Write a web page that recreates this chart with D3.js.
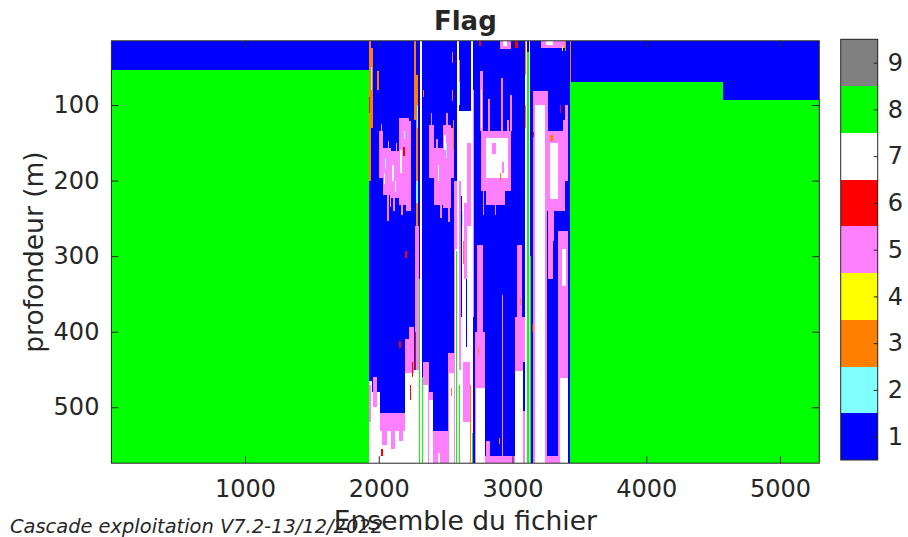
<!DOCTYPE html>
<html><head><meta charset="utf-8">
<script src="https://cdn.jsdelivr.net/npm/d3@7"></script>
<style>
body{margin:0;background:#fff}
svg{display:block}
text{font-family:"DejaVu Sans",sans-serif;fill:#262626}
</style>
</head><body><svg id="c" width="908" height="537"></svg>
<script>
// ---- data ----
const flagCodes = [1,2,3,4,5,6,7,8,9];
const flagColors = ["#0000ff","#80ffff","#ff8000","#ffff00","#ff80ff","#ff0000","#ffffff","#00ff00","#808080"];
const xTickValues = [1000,2000,3000,4000,5000];
const yTickValues = [100,200,300,400,500];
const ensembleRange = [1, 5294];
const depthRange = [15, 574];
// flag blocks: [ensemble start, ensemble end, depth top, depth bottom, flag]
const leftSection = [
 [1, 1925, 15, 54, 1],
 [1, 1925, 54, 574, 8],
 [1, 9, 15, 126, 5],
 [1, 9, 38, 62, 3],
 [1, 9, 84, 108, 3],
 [1, 9, 15, 20, 2]
];
const rightSection = [
 [3432, 4574, 15, 70, 1],
 [3432, 4574, 70, 574, 8],
 [4574, 5294, 15, 94, 1],
 [4574, 5294, 94, 574, 8],
 [3432, 3440, 15, 70, 3]
];
const middleSection = [
 [1925, 3432, 15, 574, 1],
 [1925, 1940, 15, 200, 3],[1945, 1955, 25, 130, 3],[1940, 1945, 50, 80, 2],[1925, 1932, 90, 110, 6],[1985, 2000, 55, 80, 3],
 [2002, 2032, 134, 197, 5],[2032, 2091, 157, 219, 5],[2060, 2075, 219, 253, 5],[2091, 2151, 161, 223, 5],
 [2151, 2226, 117, 232, 5],[2200, 2241, 121, 240, 5],[2100, 2115, 180, 200, 7],[2160, 2175, 160, 190, 7],
 [2040, 2050, 190, 205, 7],[2120, 2130, 200, 215, 7],[2185, 2195, 155, 168, 6],[2045, 2052, 170, 185, 2],[2190, 2197, 135, 145, 2],
 [2015, 2025, 125, 134, 5],[2070, 2080, 148, 157, 5],[2130, 2140, 150, 161, 5],[2110, 2120, 223, 240, 5],
 [2170, 2180, 232, 245, 5],[2085, 2095, 219, 235, 5],
 [2264, 2279, 15, 120, 3],[2279, 2294, 60, 260, 3],[2285, 2294, 100, 130, 2],[2279, 2290, 200, 230, 2],
 [2268, 2301, 260, 450, 5],[2272, 2280, 400, 450, 6],
 [2376, 2413, 126, 197, 5],[2413, 2480, 157, 232, 5],[2480, 2540, 126, 236, 5],[2540, 2563, 130, 197, 5],
 [2390, 2400, 110, 126, 5],[2430, 2440, 145, 157, 5],[2460, 2470, 232, 250, 5],[2505, 2515, 110, 126, 5],[2520, 2530, 236, 255, 5],
 [2490, 2500, 140, 160, 7],[2440, 2450, 180, 200, 7],[2500, 2507, 150, 170, 2],
 [2548, 2555, 30, 45, 3],[2548, 2555, 80, 95, 3],[2555, 2563, 120, 160, 3],[2334, 2341, 80, 90, 3],
 [1925, 1950, 465, 574, 7],[1930, 1945, 470, 520, 5],[1950, 2009, 480, 574, 7],[1955, 1990, 460, 500, 5],
 [2009, 2196, 508, 574, 7],[2009, 2196, 508, 532, 5],[2025, 2060, 532, 550, 5],[2090, 2120, 532, 555, 5],
 [2150, 2180, 532, 545, 5],[2020, 2030, 555, 565, 6],
 [2196, 2264, 410, 470, 5],[2226, 2264, 394, 420, 5],[2196, 2264, 455, 574, 7],[2230, 2240, 470, 490, 6],
 [2245, 2252, 440, 460, 6],[2151, 2170, 412, 421, 6],[2196, 2210, 293, 302, 6],[2264, 2301, 450, 574, 7],
 [2334, 2376, 440, 574, 5],[2334, 2370, 470, 574, 7],[2376, 2406, 480, 510, 5],[2376, 2406, 490, 574, 7],
 [2406, 2518, 531, 574, 5],[2440, 2455, 560, 574, 7],[2518, 2575, 428, 574, 5],[2525, 2575, 455, 574, 7],
 [2540, 2547, 475, 485, 3],[2563, 2583, 200, 574, 5],[2568, 2583, 290, 574, 7],
 [2308, 2326, 15, 574, 7],[2300, 2308, 330, 574, 8],[2326, 2334, 460, 574, 8],[2583, 2600, 15, 574, 7],[2575, 2583, 293, 574, 8],
 [2600, 2690, 108, 574, 7],[2600, 2615, 200, 450, 5],[2640, 2660, 230, 330, 5],[2660, 2690, 150, 260, 5],
 [2615, 2625, 220, 380, 1],[2650, 2660, 330, 420, 1],[2625, 2632, 240, 260, 2],[2630, 2638, 280, 310, 3],
 [2630, 2680, 440, 520, 5],[2603, 2610, 40, 70, 3],[2603, 2610, 70, 100, 2],[2600, 2608, 470, 574, 8],
 [2690, 2705, 15, 574, 7],[2683, 2690, 470, 574, 3],[2697, 2705, 534, 574, 8],
 [2907, 2990, 15, 26, 5],[2930, 2960, 15, 22, 7],[2750, 2765, 15, 22, 6],[3019, 3040, 15, 25, 6],
 [2705, 2715, 80, 380, 5],[2757, 2780, 55, 134, 5],[2765, 2775, 80, 130, 7],[2765, 2989, 134, 214, 5],
 [2802, 2967, 144, 197, 7],[2850, 2880, 150, 165, 5],[2920, 2940, 175, 190, 5],[2802, 2944, 214, 232, 5],
 [2780, 2790, 214, 245, 5],[2960, 2975, 120, 134, 5],[2870, 2880, 232, 245, 5],
 [2915, 2930, 64, 134, 5],[2815, 2835, 92, 134, 5],[2985, 2995, 87, 134, 5],[2827, 2835, 95, 100, 3],[2907, 2915, 190, 200, 3],
 [2735, 2780, 285, 400, 5],[2720, 2794, 400, 574, 5],[2725, 2794, 474, 574, 7],[2742, 2750, 420, 430, 3],
 [2794, 3019, 565, 574, 5],[2800, 2830, 545, 565, 5],[2900, 2907, 540, 548, 3],[2925, 2932, 351, 574, 5],
 [3030, 3070, 285, 380, 5],[3019, 3094, 380, 574, 5],[3019, 3080, 452, 574, 7],[3075, 3090, 440, 505, 1],[3056, 3064, 355, 365, 3],
 [3094, 3110, 15, 574, 7],[3110, 3125, 30, 574, 8],[3125, 3133, 15, 574, 7],[3133, 3140, 300, 574, 8],
 [3094, 3101, 15, 60, 3],[3094, 3101, 100, 130, 3],
 [3153, 3266, 81, 574, 5],[3165, 3240, 100, 574, 7],[3266, 3393, 134, 240, 5],[3280, 3340, 150, 225, 7],
 [3393, 3415, 100, 200, 5],[3380, 3393, 120, 134, 5],[3255, 3340, 240, 565, 1],[3266, 3300, 240, 330, 5],[3300, 3310, 240, 280, 5],
 [3251, 3355, 565, 574, 5],
 [3340, 3415, 267, 574, 5],[3355, 3415, 461, 574, 7],[3370, 3400, 290, 340, 7],
 [3355, 3362, 100, 110, 6],[3153, 3160, 136, 142, 6],[3145, 3153, 390, 400, 6],[3280, 3300, 140, 148, 3],
 [3210, 3400, 15, 24, 5],[3250, 3300, 15, 21, 7],[3390, 3398, 15, 28, 3],[3370, 3378, 22, 28, 4]
];

// ---- drawing ----
const svg = d3.select("#c");
const M = {l:111.4, r:819.3, t:40.8, b:463.2};
const x = d3.scaleLinear().domain(ensembleRange).range([M.l, M.r]);
const y = d3.scaleLinear().domain(depthRange).range([M.t, M.b]);
const color = d3.scaleOrdinal().domain(flagCodes).range(flagColors);

svg.append("rect").attr("width",908).attr("height",537).attr("fill","#fff");

const blocks = leftSection.concat(rightSection, middleSection);
svg.append("g").attr("shape-rendering","crispEdges")
 .selectAll("rect").data(blocks).join("rect")
 .attr("x", d => x(d[0]))
 .attr("y", d => y(d[2]))
 .attr("width", d => Math.max(1, x(d[1]) - x(d[0])))
 .attr("height", d => y(d[3]) - y(d[2]))
 .attr("fill", d => color(d[4]));

const axisColor = "#262626";
function styleAxis(g){
  g.select(".domain").remove();
  g.selectAll("line").attr("stroke",axisColor);
  g.selectAll("text").attr("fill",axisColor).style("font-size","24px").style("font-family","DejaVu Sans");
}
svg.append("g").attr("transform",`translate(0,${M.b})`)
 .call(d3.axisBottom(x).tickValues(xTickValues).tickSizeInner(-7).tickSizeOuter(0).tickPadding(17).tickFormat(d3.format("d")))
 .call(styleAxis);
svg.append("g").attr("transform",`translate(0,${M.t})`)
 .call(d3.axisTop(x).tickValues(xTickValues).tickSizeInner(-7).tickSizeOuter(0).tickFormat(""))
 .call(styleAxis);
svg.append("g").attr("transform",`translate(${M.l},0)`)
 .call(d3.axisLeft(y).tickValues(yTickValues).tickSizeInner(-7).tickSizeOuter(0).tickPadding(12).tickFormat(d3.format("d")))
 .call(styleAxis);
svg.append("g").attr("transform",`translate(${M.r},0)`)
 .call(d3.axisRight(y).tickValues(yTickValues).tickSizeInner(-7).tickSizeOuter(0).tickFormat(""))
 .call(styleAxis);
svg.append("rect").attr("x",M.l).attr("y",M.t).attr("width",M.r-M.l).attr("height",M.b-M.t)
 .attr("fill","none").attr("stroke",axisColor).attr("stroke-width",1);

// colorbar
const CB = {l:840.7, r:877.7};
const cy = d3.scaleLinear().domain([0.5, 9.5]).range([460, 39.3]);
svg.append("g").attr("shape-rendering","crispEdges").selectAll("rect").data(flagCodes).join("rect")
 .attr("x",CB.l).attr("width",CB.r-CB.l)
 .attr("y",d=>cy(d+0.5)).attr("height",d=>cy(d-0.5)-cy(d+0.5))
 .attr("fill",d=>color(d));
svg.append("g").attr("transform",`translate(${CB.r},0)`)
 .call(d3.axisRight(cy).tickValues(flagCodes).tickSizeInner(-4).tickSizeOuter(0).tickPadding(10).tickFormat(d3.format("d")))
 .call(styleAxis);
svg.append("rect").attr("x",CB.l).attr("y",39.3).attr("width",CB.r-CB.l).attr("height",460-39.3)
 .attr("fill","none").attr("stroke",axisColor).attr("stroke-width",1);

// texts
svg.append("text").attr("x",(M.l+M.r)/2).attr("y",30).attr("text-anchor","middle")
 .style("font-size","26px").style("font-weight","bold").text("Flag");
svg.append("text").attr("x",(M.l+M.r)/2).attr("y",530).attr("text-anchor","middle")
 .style("font-size","26.5px").text("Ensemble du fichier");
svg.append("text").attr("transform",`translate(43,${(M.t+M.b)/2}) rotate(-90)`).attr("text-anchor","middle")
 .style("font-size","26.5px").text("profondeur (m)");
svg.append("text").attr("x",10).attr("y",533)
 .style("font-size","20px").style("font-style","italic")
 .attr("textLength",373).attr("lengthAdjust","spacingAndGlyphs")
 .text("Cascade exploitation V7.2-13/12/2022");
</script>
</body></html>
